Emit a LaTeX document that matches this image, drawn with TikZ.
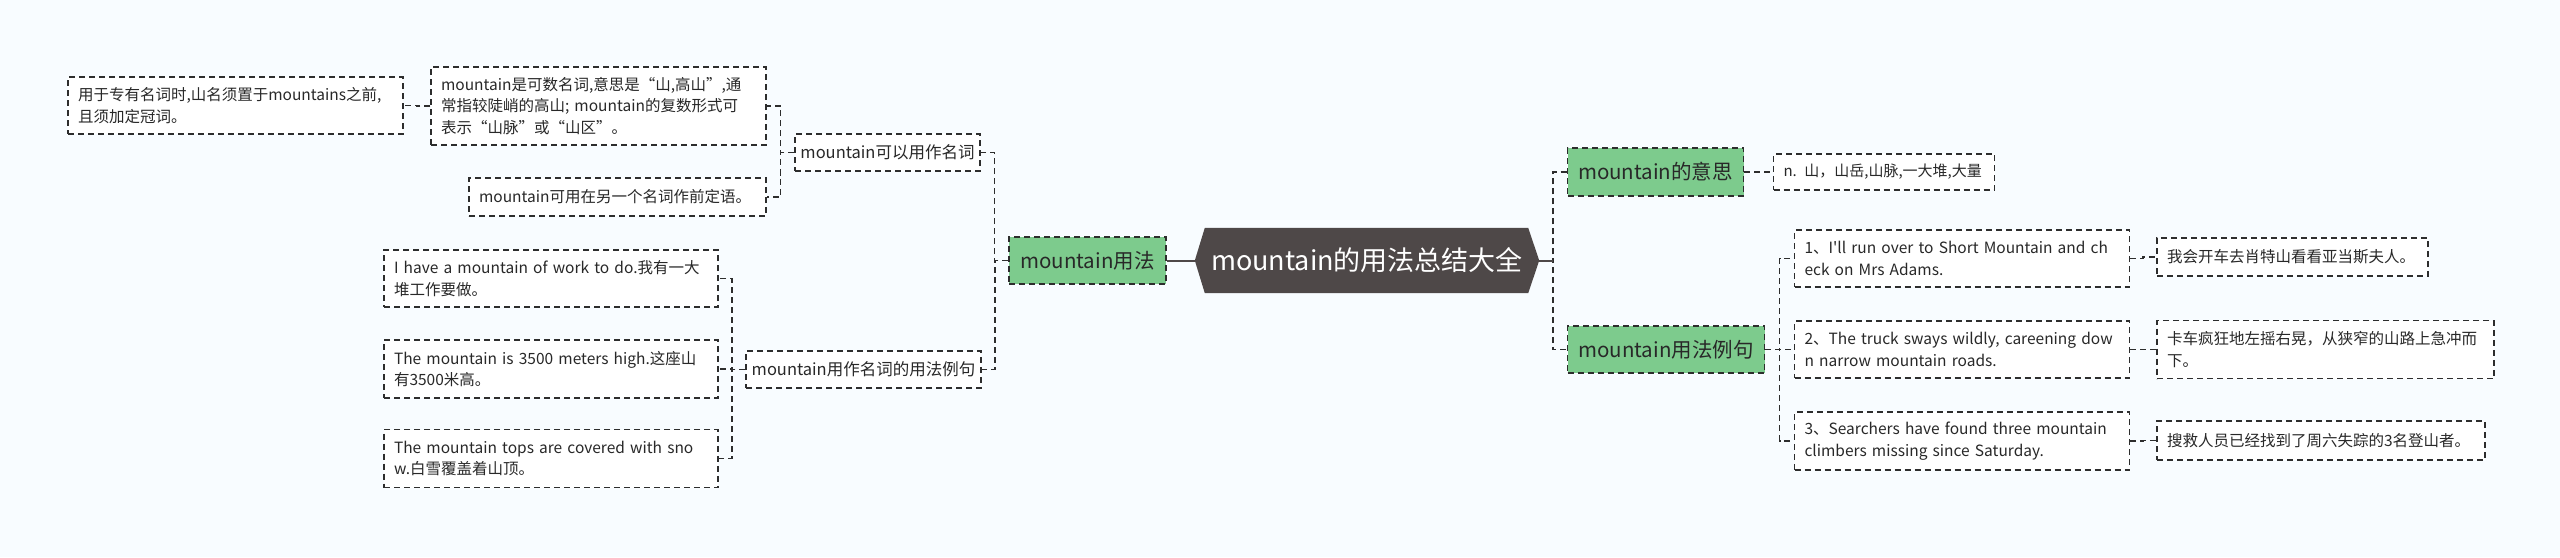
\documentclass[tikz,border=0pt]{standalone}
\usepackage{fontspec}
\setmainfont{Noto Sans CJK SC}[Ligatures=TeXOff]
\usetikzlibrary{calc}
\pgfdeclarelayer{bg}
\pgfsetlayers{bg,main}
\definecolor{bgcol}{RGB}{248,252,255}
\definecolor{rootcol}{RGB}{78,72,72}
\definecolor{greencol}{RGB}{125,203,141}
\definecolor{linecol}{RGB}{45,45,45}
\definecolor{txtcol}{RGB}{40,40,40}
\begin{document}
\begin{tikzpicture}[x=1pt,y=-1pt,
  dsh/.style={dash pattern=on 6pt off 4pt, line width=1.6pt, draw=linecol},
  topic/.style={dsh, fill=greencol, text=txtcol, font=\fontsize{20.5}{24}\selectfont, inner sep=0pt},
  sub/.style={dsh, fill=white, text=txtcol, font=\fontsize{16.5}{20}\selectfont, inner sep=0pt},
  leaf/.style={dsh, fill=white, text=txtcol, font=\fontsize{15.5}{21.5}\selectfont, inner xsep=10pt, inner ysep=0pt, align=left},
  conn/.style={dsh, to path={-| ($(\tikztostart)!.5!(\tikztotarget)$) |- (\tikztotarget)}},
  solidline/.style={line width=2pt, draw=rootcol}
]
\begin{pgfonlayer}{bg}
\fill[bgcol] (0,0) rectangle (2560,557);
\end{pgfonlayer}
\useasboundingbox (0,0) rectangle (2560,557);

% root
\node[text=white, font=\fontsize{27}{30}\selectfont, minimum width=344pt, minimum height=65pt, inner sep=0pt] (root) at (1367,260.5) {mountain的用法总结大全};
\begin{pgfonlayer}{bg}
\fill[rootcol] (root.west) -- ([xshift=10pt]root.north west) -- ([xshift=-11pt]root.north east) -- (root.east) -- ([xshift=-11pt]root.south east) -- ([xshift=10pt]root.south west) -- cycle;
\end{pgfonlayer}

% left side
\node[topic, minimum width=157pt, minimum height=47pt] (L1) at (1087.5,260.5) {mountain用法};
\node[sub, minimum width=185pt, minimum height=37pt] (A) at (887.5,152.5) {mountain可以用作名词};
\node[sub, minimum width=235pt, minimum height=37pt] (B) at (863.5,369.5) {mountain用作名词的用法例句};
\node[leaf, text width=315pt, minimum height=78pt] (A1) at (598.5,106) {\mbox{mountain是可数名词,意思是“山,高山”,通}\\\mbox{常指较陡峭的高山; mountain的复数形式可}\\\mbox{表示“山脉”或“山区”。}};
\node[leaf, text width=277pt, minimum height=38pt] (A2) at (617.5,197) {\mbox{mountain可用在另一个名词作前定语。}};
\node[leaf, text width=315pt, minimum height=57pt] (A1a) at (235.5,105.5) {\mbox{用于专有名词时,山名须置于mountains之前,}\\\mbox{且须加定冠词。}};
\node[leaf, text width=314pt, minimum height=57pt] (B1) at (551,278.5) {\mbox{I have a mountain of work to do.我有一大}\\\mbox{堆工作要做。}};
\node[leaf, text width=314pt, minimum height=58pt] (B2) at (551,369) {\mbox{The mountain is 3500 meters high.这座山}\\\mbox{有3500米高。}};
\node[leaf, text width=314pt, minimum height=58pt] (B3) at (551,458.5) {\mbox{The mountain tops are covered with sno}\\\mbox{w.白雪覆盖着山顶。}};

% right side
\node[topic, minimum width=176pt, minimum height=48pt] (R1) at (1655.5,172) {mountain的意思};
\node[topic, minimum width=197pt, minimum height=47pt] (R2) at (1666,349.5) {mountain用法例句};
\node[leaf, font=\fontsize{15}{20}\selectfont, text width=201pt, minimum height=36pt] (R1a) at (1884,172) {\mbox{n. 山，山岳,山脉,一大堆,大量}};
\node[leaf, text width=315pt, minimum height=57pt] (S1) at (1962,258.5) {\mbox{1、I'll run over to Short Mountain and ch}\\\mbox{eck on Mrs Adams.}};
\node[leaf, text width=315pt, minimum height=57pt] (S2) at (1962,349.5) {\mbox{2、The truck sways wildly, careening dow}\\\mbox{n narrow mountain roads.}};
\node[leaf, text width=315pt, minimum height=58pt] (S3) at (1962,441) {\mbox{3、Searchers have found three mountain}\\\mbox{climbers missing since Saturday.}};
\node[leaf, text width=251pt, minimum height=38pt] (T1) at (2292.5,257) {\mbox{我会开车去肖特山看看亚当斯夫人。}};
\node[leaf, text width=317pt, minimum height=58pt] (T2) at (2325.5,349.5) {\mbox{卡车疯狂地左摇右晃，从狭窄的山路上急冲而}\\\mbox{下。}};
\node[leaf, text width=308pt, minimum height=39pt] (T3) at (2321,440.5) {\mbox{搜救人员已经找到了周六失踪的3名登山者。}};

% connectors
\draw[solidline] (root.west) -- (L1.east);
\draw[conn] (root.east) to (R1.west);
\draw[conn] (root.east) to (R2.west);
\draw[solidline] (root.east) -- ++(14,0);
\draw[conn] (L1.west) to (A.east);
\draw[conn] (L1.west) to (B.east);
\draw[conn] (A.west) to (A1.east);
\draw[conn] (A.west) to (A2.east);
\draw[conn] (A1.west) to (A1a.east);
\draw[conn] (B.west) to (B1.east);
\draw[conn] (B.west) to (B2.east);
\draw[conn] (B.west) to (B3.east);
\draw[conn] (R1.east) to (R1a.west);
\draw[conn] (R2.east) to (S1.west);
\draw[conn] (R2.east) to (S2.west);
\draw[conn] (R2.east) to (S3.west);
\draw[conn] (S1.east) to (T1.west);
\draw[conn] (S2.east) to (T2.west);
\draw[conn] (S3.east) to (T3.west);
\end{tikzpicture}
\end{document}
